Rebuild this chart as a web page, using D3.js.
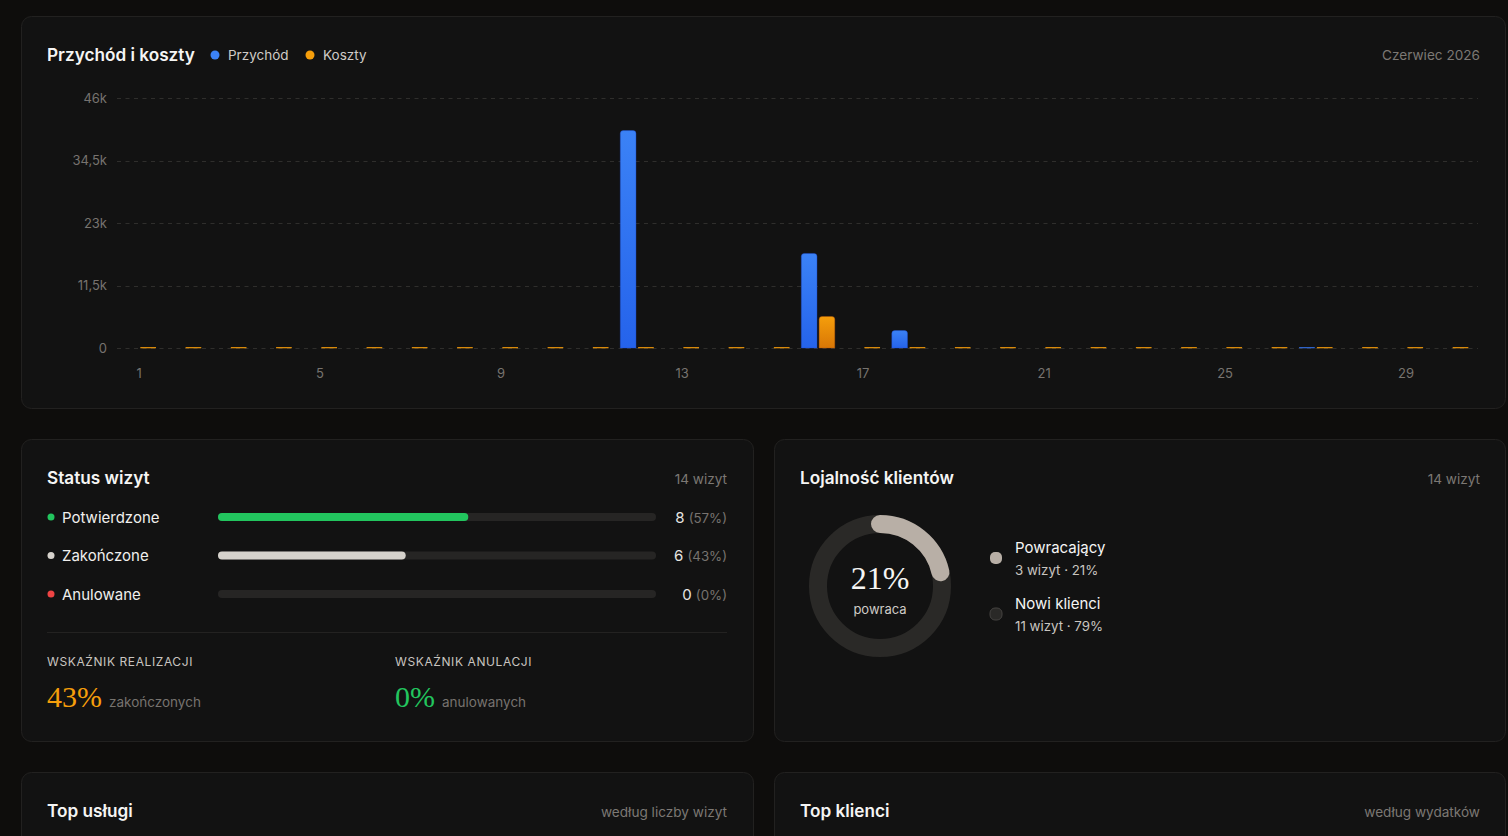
<!DOCTYPE html>
<html>
<head>
<meta charset="utf-8">
<script src="https://cdn.jsdelivr.net/npm/d3@7"></script>
<style>
  html, body { margin: 0; padding: 0; background: #0e0d0c; }
  svg { display: block; font-family: Inter, "Noto Sans", sans-serif; }
</style>
</head>
<body>
<div id="chart"></div>
<script>
// --- data ---
const days = [1, 2, 3, 4, 5, 6, 7, 8, 9, 10, 11, 12, 13, 14, 15, 16, 17, 18, 19, 20, 21, 22, 23, 24, 25, 26, 27, 28, 29, 30];
const revenue = [null, null, null, null, null, null, null, null, null, null, null, 40000, null, null, null, 17400, null, 3200, null, null, null, null, null, null, null, null, 0, null, null, null];
const costs = [0, 0, 0, 0, 0, 0, 0, 0, 0, 0, 0, 0, 0, 0, 0, 5800, 0, 0, 0, 0, 0, 0, 0, 0, 0, 0, 0, 0, 0, 0];
const yTicks = [0, 11500, 23000, 34500, 46000];
const xTickDays = [1, 5, 9, 13, 17, 21, 25, 29];

const statusLabels = ["Potwierdzone", "Zakończone", "Anulowane"];
const statusCounts = [8, 6, 0];
const statusColors = ["#22c55e", "#d6d2cc", "#ef4444"];
const totalVisits = 14;

const loyaltyLabels = ["Powracający", "Nowi klienci"];
const loyaltyCounts = [3, 11];

const W = 1508, H = 836;
const pl = d3.formatLocale({ decimal: ",", thousands: " ", grouping: [3], currency: ["", " zł"] });
const fmtK = v => v === 0 ? "0" : pl.format(".1~f")(v / 1000) + "k";

const svg = d3.select("#chart").append("svg").attr("width", W).attr("height", H);
const defs = svg.append("defs");

function grad(id, c1, c2) {
  const g = defs.append("linearGradient").attr("id", id).attr("x1", 0).attr("x2", 0).attr("y1", 0).attr("y2", 1);
  g.append("stop").attr("offset", "0%").attr("stop-color", c1);
  g.append("stop").attr("offset", "100%").attr("stop-color", c2);
}
grad("gRev", "#3b82f6", "#2563eb");
grad("gCost", "#f59e0b", "#d97706");

function card(x, y, w, h) {
  svg.append("rect").attr("x", x + 0.5).attr("y", y + 0.5).attr("width", w).attr("height", h)
    .attr("rx", 10).attr("fill", "#121212").attr("stroke", "#222120");
}
card(21, 16, 1484, 392);
card(21, 439, 732, 302);
card(774, 439, 731, 302);
card(21, 772, 732, 120);
card(774, 772, 731, 120);

function title(x, y, t) {
  svg.append("text").attr("x", x).attr("y", y).attr("fill", "#f5f5f4")
    .attr("font-size", 17.2).attr("font-weight", 600).text(t);
}
function note(x, y, t) {
  svg.append("text").attr("x", x).attr("y", y).attr("fill", "#7c7874")
    .attr("font-size", 13.6).attr("text-anchor", "end").text(t);
}

// --- revenue / costs chart ---
title(47, 61, "Przychód i koszty");
const legend = [["Przychód", "#3b82f6", 215], ["Koszty", "#f59e0b", 310]];
legend.forEach(([t, c, x]) => {
  svg.append("circle").attr("cx", x).attr("cy", 55).attr("r", 4.5).attr("fill", c);
  svg.append("text").attr("x", x + 13).attr("y", 60).attr("fill", "#cfcbc6").attr("font-size", 13.5).text(t);
});
note(1480, 60, "Czerwiec 2026");

const x = d3.scaleBand().domain(days).range([116.4, 1474]);
const sub = d3.scaleBand().domain(["rev", "cost"])
  .range([x.bandwidth() * 0.135, x.bandwidth() * 0.875]).paddingInner(0.12);
const y = d3.scaleLinear().domain([0, 46000]).range([348, 98]);

const plot = svg.append("g");
const yAxis = plot.append("g").attr("transform", "translate(116,0)")
  .call(d3.axisLeft(y).tickValues(yTicks).tickFormat(fmtK).tickSize(0).tickPadding(9));
yAxis.select(".domain").remove();
yAxis.selectAll("text").attr("fill", "#77736f").attr("font-size", 13).attr("font-family", "Inter, sans-serif");

plot.append("g").selectAll("line").data(yTicks).join("line")
  .attr("x1", 117).attr("x2", 1478)
  .attr("y1", d => Math.round(y(d)) + 0.5).attr("y2", d => Math.round(y(d)) + 0.5)
  .attr("stroke", "#2f2e2c").attr("stroke-dasharray", "4 4.5");

const xAxis = plot.append("g").attr("transform", "translate(0,363)")
  .call(d3.axisBottom(x).tickValues(xTickDays).tickSize(0).tickPadding(6));
xAxis.select(".domain").remove();
xAxis.selectAll("text").attr("fill", "#77736f").attr("font-size", 13).attr("font-family", "Inter, sans-serif");

function topRounded(x0, y0, w, h, r) {
  r = Math.min(r, h, w / 2);
  return `M${x0},${y0 + h}V${y0 + r}Q${x0},${y0} ${x0 + r},${y0}H${x0 + w - r}Q${x0 + w},${y0} ${x0 + w},${y0 + r}V${y0 + h}Z`;
}

const series = [
  { key: "rev", values: revenue, fill: "url(#gRev)", flat: "#2f63c9", edge: "#1d4ed8" },
  { key: "cost", values: costs, fill: "url(#gCost)", flat: "#d98a0b", edge: "#b45309" }
];
series.forEach(s => {
  const pts = days.map((d, i) => ({ day: d, v: s.values[i] })).filter(p => p.v !== null);
  const g = plot.append("g");
  g.selectAll("path").data(pts.filter(p => p.v > 0)).join("path")
    .attr("d", p => topRounded(x(p.day) + sub(s.key), y(p.v), sub.bandwidth(), y(0) - y(p.v), 3))
    .attr("fill", s.fill).attr("stroke", s.edge).attr("stroke-opacity", 0.5).attr("stroke-width", 0.8);
  g.selectAll("rect").data(pts.filter(p => p.v === 0)).join("rect")
    .attr("x", p => x(p.day) + sub(s.key)).attr("y", y(0) - 1)
    .attr("width", sub.bandwidth()).attr("height", 1.3).attr("fill", s.flat);
});

// --- status card ---
title(47, 484, "Status wizyt");
note(727, 484, totalVisits + " wizyt");

const track = d3.scaleLinear().domain([0, totalVisits]).range([0, 438]);
const rowY = d3.scalePoint().domain(statusLabels).range([517, 594]);
statusLabels.forEach((lab, i) => {
  const cy = rowY(lab);
  svg.append("circle").attr("cx", 51).attr("cy", cy).attr("r", 3.5).attr("fill", statusColors[i]);
  svg.append("text").attr("x", 62).attr("y", cy + 5.5).attr("fill", "#f0efed").attr("font-size", 15).text(lab);
  svg.append("rect").attr("x", 218).attr("y", cy - 4).attr("width", track(totalVisits)).attr("height", 8)
    .attr("rx", 4).attr("fill", "#262524");
  if (statusCounts[i] > 0)
    svg.append("rect").attr("x", 218).attr("y", cy - 4).attr("width", track(statusCounts[i])).attr("height", 8)
      .attr("rx", 4).attr("fill", statusColors[i]);
  const pct = Math.round(statusCounts[i] / totalVisits * 100);
  const t = svg.append("text").attr("x", 727).attr("y", cy + 5.5).attr("text-anchor", "end").attr("font-size", 15);
  t.append("tspan").attr("fill", "#e7e5e2").text(statusCounts[i] + " ");
  t.append("tspan").attr("fill", "#77736f").attr("font-size", 13.3).text(`(${pct}%)`);
});

svg.append("line").attr("x1", 47).attr("x2", 727).attr("y1", 632.5).attr("y2", 632.5).attr("stroke", "#232221");

const done = Math.round(statusCounts[1] / totalVisits * 100);
const cancel = Math.round(statusCounts[2] / totalVisits * 100);
const kpis = [
  { x: 47, label: "WSKAŹNIK REALIZACJI", val: done + "%", color: "#f59e0b", sub: "zakończonych" },
  { x: 395, label: "WSKAŹNIK ANULACJI", val: cancel + "%", color: "#22c55e", sub: "anulowanych" }
];
kpis.forEach(k => {
  svg.append("text").attr("x", k.x).attr("y", 666).attr("fill", "#c9c5c0").attr("font-size", 12)
    .attr("letter-spacing", 0.6).text(k.label);
  const t = svg.append("text").attr("x", k.x).attr("y", 707);
  t.append("tspan").attr("fill", k.color).attr("font-size", 30)
    .attr("font-family", "'Liberation Serif', 'DejaVu Serif', serif").text(k.val);
  t.append("tspan").attr("dx", 7).attr("fill", "#77736f").attr("font-size", 13.5).text(k.sub);
});

// --- loyalty card ---
title(800, 484, "Lojalność klientów");
note(1480, 484, totalVisits + " wizyt");

const loyalTotal = d3.sum(loyaltyCounts);
const donut = svg.append("g").attr("transform", "translate(880,586)");
donut.append("circle").attr("r", 62).attr("fill", "none").attr("stroke", "#2a2927").attr("stroke-width", 18);
const arcPath = d3.path();
const a0 = -Math.PI / 2;
arcPath.arc(0, 0, 62, a0, a0 + 2 * Math.PI * loyaltyCounts[0] / loyalTotal);
donut.append("path").attr("d", arcPath.toString()).attr("fill", "none")
  .attr("stroke", "#b8afa6").attr("stroke-width", 18).attr("stroke-linecap", "round");
const share = Math.round(loyaltyCounts[0] / loyalTotal * 100);
donut.append("text").attr("y", 3).attr("text-anchor", "middle").attr("fill", "#f5f5f4")
  .attr("font-size", 32).attr("font-family", "'Liberation Serif', 'DejaVu Serif', serif").text(share + "%");
donut.append("text").attr("y", 28).attr("text-anchor", "middle").attr("fill", "#cfcbc6")
  .attr("font-size", 13).text("powraca");

const legY = [548, 604];
loyaltyLabels.forEach((lab, i) => {
  const pct = Math.round(loyaltyCounts[i] / loyalTotal * 100);
  svg.append("rect").attr("x", 990).attr("y", legY[i] + 4).attr("width", 12).attr("height", 12).attr("rx", 5)
    .attr("fill", i === 0 ? "#b8afa6" : "#2a2927").attr("stroke", i === 0 ? "none" : "#444240");
  svg.append("text").attr("x", 1015).attr("y", legY[i] + 5).attr("fill", "#f5f5f4").attr("font-size", 15).text(lab);
  svg.append("text").attr("x", 1015).attr("y", legY[i] + 27).attr("fill", "#c9c5c0").attr("font-size", 13.3)
    .text(`${loyaltyCounts[i]} wizyt · ${pct}%`);
});

// --- bottom cards ---
title(47, 817, "Top usługi");
note(727, 817, "według liczby wizyt");
title(800, 817, "Top klienci");
note(1480, 817, "według wydatków");
</script>
</body>
</html>
